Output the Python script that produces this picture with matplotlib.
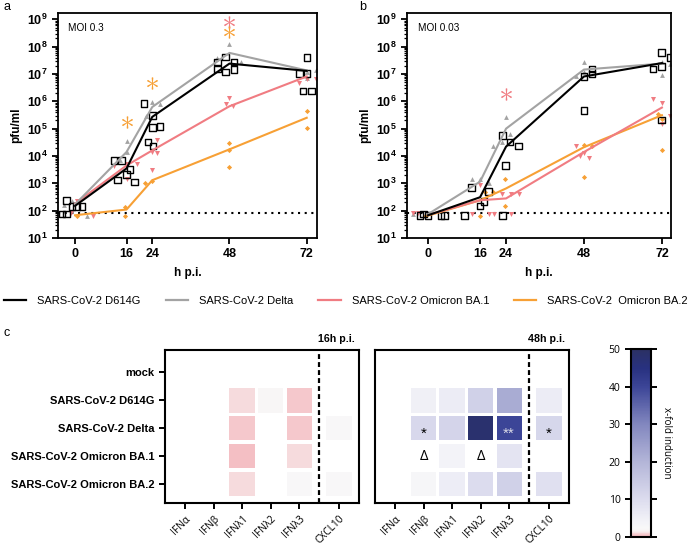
import numpy as np
import matplotlib
matplotlib.use("Agg")
import matplotlib.pyplot as plt
from matplotlib.colors import LinearSegmentedColormap, Normalize
from matplotlib.patches import Rectangle
from matplotlib.lines import Line2D
from matplotlib.ticker import LogLocator, FuncFormatter, NullFormatter
import matplotlib.cm as cm

plt.rcParams['font.family'] = ['Liberation Sans', 'DejaVu Sans']
plt.rcParams['mathtext.fontset'] = 'custom'
plt.rcParams['mathtext.rm'] = 'Liberation Sans'
plt.rcParams['mathtext.bf'] = 'Liberation Sans:bold'

# ---------------- data: growth curves ----------------
hours = [0, 16, 24, 48, 72]
virus_names = ["SARS-CoV-2 D614G", "SARS-CoV-2 Delta",
               "SARS-CoV-2 Omicron BA.1", "SARS-CoV-2  Omicron BA.2"]
virus_colors = ["#000000", "#a3a3a3", "#f07c82", "#f7a035"]
detection_limit = 80

# panel a, MOI 0.3 (mean lines)
a_means = [
    [150, 3.5e3, 2.7e5, 2.4e7, 1.3e7],
    [170, 1.4e4, 6.2e5, 5.9e7, 1.35e7],
    [180, 4.5e3, 1.6e4, 6.6e5, 8.1e6],
    [68, 110, 1.3e3, 1.75e4, 2.5e5],
]
# replicates (h p.i. incl. jitter, pfu/ml)
a_d614g_x = [-4.1, -2.6, -2.6, -1.0, 0.5, 2.1, 12.1, 14.5, 13.2, 16.0, 17.1, 18.4,
             21.4, 22.6, 24.0, 24.0, 24.3, 26.4, 44.2, 44.2, 46.8, 46.8, 49.4, 49.4,
             69.7, 70.9, 72.1, 72.1, 73.5]
a_d614g_y = [76, 76, 232, 145, 145, 145, 6.8e3, 6.8e3, 1.3e3, 2.1e3, 3.2e3, 1.1e3,
             8.2e5, 3.2e4, 3.0e5, 1.1e5, 2.3e4, 1.2e5, 2.7e7, 1.55e7, 4.2e7, 1.2e7, 2.7e7, 1.45e7,
             1.05e7, 2.4e6, 4.0e7, 1.05e7, 2.4e6]
a_delta_x = [-3.5, -1.0, 3.6, 14.0, 16.0, 16.0, 22.0, 24.0, 26.5, 44.2, 48.0, 51.5, 72.0, 72.0, 74.9]
a_delta_y = [160, 232, 62, 7e3, 1.4e4, 3.5e4, 3e5, 9.5e5, 8e5, 3.8e7, 1.25e8, 2.7e7, 7e6, 1.2e7, 1.35e7]
a_ba1_x = [-1.2, 0.5, 5.7, 12.0, 16.0, 16.0, 19.2, 23.8, 24.0, 25.4, 25.4, 46.9, 48.0, 49.2, 69.7, 72.2, 74.9]
a_ba1_y = [80, 220, 66, 4.2e3, 1.5e3, 5e3, 5e3, 3e3, 1.4e4, 4e4, 1.3e4, 7.8e5, 1.35e6, 7e5, 4.8e6, 6.8e6, 6.3e6]
a_ba2_x = [0.5, 15.5, 15.5, 21.8, 24.0, 48.0, 48.0, 48.0, 72.1, 72.1]
a_ba2_y = [66, 140, 66, 1e3, 1.2e3, 3.1e4, 1.7e4, 4e3, 4.3e5, 1.05e5]
a_star_x = [16, 24, 48, 48]
a_star_y = [1.7e5, 4.5e6, 7.9e8, 3.4e8]
a_star_virus = [3, 3, 2, 3]

# panel b, MOI 0.03
b_means = [
    [68, 310, 2.2e4, 8.1e6, 2.5e7],
    [75, 1.15e3, 1.0e5, 1.45e7, 2.4e7],
    [70, 240, 280, 1.4e4, 5.9e5],
    [66, 240, 650, 2.1e4, 3.1e5],
]
b_d614g_x = [-2.5, -1.4, 0.0, 4.0, 5.0, 11.2, 13.4, 16.0, 17.2, 18.6, 22.9, 22.9, 23.9,
             25.2, 27.8, 48.0, 48.0, 50.5, 50.5, 69.3, 71.9, 71.9, 71.9, 74.5]
b_d614g_y = [66, 75, 66, 66, 66, 66, 690, 150, 220, 510, 66, 5.6e4, 4.5e3,
             3.2e4, 2.3e4, 8.1e6, 4.7e5, 1.55e7, 9.8e6, 1.55e7, 6e7, 1.9e7, 2.1e5, 4e7]
b_delta_x = [-4.5, 13.4, 16.0, 18.6, 20.1, 22.7, 23.9, 25.2, 45.6, 48.0, 48.0, 71.9, 71.9, 74.5]
b_delta_y = [76, 1.45e3, 1.45e3, 1e3, 2.3e4, 3.2e4, 2.6e5, 6.5e4, 8.1e6, 2.75e7, 1.2e7, 2.75e7, 9e6, 2.4e7]
b_ba1_x = [-4.5, -3.0, 13.4, 16.0, 18.6, 20.4, 22.9, 25.5, 25.5, 28.0, 45.5, 46.8, 48.0, 49.4,
           69.3, 71.9, 71.9, 74.5]
b_ba1_y = [80, 80, 76, 900, 76, 76, 400, 400, 76, 400, 2.4e4, 1e4, 1.25e4, 8.5e3,
           1.25e6, 8.5e5, 1.5e5, 3e5]
b_ba2_x = [-0.9, 16.0, 17.5, 20.1, 23.7, 23.7, 48.0, 48.0, 50.5, 70.9, 71.9, 71.9]
b_ba2_y = [66, 66, 480, 500, 1.45e3, 150, 2.6e4, 1.7e3, 2.3e4, 3.5e5, 1.7e4, 2.3e5]
b_star_x = [24]
b_star_y = [1.9e6]
b_star_virus = [2]

# ---------------- data: heatmaps ----------------
rows = ["mock", "SARS-CoV-2 D614G", "SARS-CoV-2 Delta",
        "SARS-CoV-2 Omicron BA.1", "SARS-CoV-2 Omicron BA.2"]
genes = ["IFNα", "IFNβ", "IFNλ1", "IFNλ2", "IFNλ3", "CXCL10"]
nan = np.nan
heat_16h = [
    [nan, nan, nan, nan, nan, nan],
    [nan, nan, 1.1, 2.0, 0.7, nan],
    [nan, nan, 0.7, nan, 0.7, 2.2],
    [nan, nan, 0.4, nan, 1.0, nan],
    [nan, nan, 1.1, nan, 2.2, 2.2],
]
heat_48h = [
    [nan, nan, nan, nan, nan, nan],
    [nan, 5, 6, 13, 22, 6],
    [nan, 11, 12, 48, 40, 11.5],
    [nan, nan, 4, nan, 8, nan],
    [nan, 3, 5.5, 10, 13, 9],
]
# significance marks in 48h map: (row, column, text)
marks_48h = [(2, 1, "*"), (2, 4, "**"), (2, 5, "*"), (3, 1, "Δ"), (3, 3, "Δ")]

gene_pos = [0, 1, 2, 3, 4, 5.4]
split_pos = 4.7

cmap = LinearSegmentedColormap.from_list("xfold", [
    (0.0, "#f3adb3"), (0.03, "#f8f3f4"), (0.045, "#f8f8f8"), (0.08, "#f3f3f8"), (0.2, "#dcdcee"),
    (0.4, "#b3b5d8"), (0.6, "#8287bf"), (0.8, "#3c4597"), (0.9, "#283180"), (1.0, "#2b3163")])
norm = Normalize(0, 50)

W, H = 698, 549
fig = plt.figure(figsize=(W / 100, H / 100), dpi=100)


def box(l, t, r, b):
    return [l / W, 1 - b / H, (r - l) / W, (b - t) / H]


def draw_growth(ax, means, reps, stars, xlim, moi):
    markers = [("s", 22, "none"), ("^", 12, None), ("v", 13, None), ("D", 7, None)]
    for k, (xs, ys) in enumerate(reps):
        m, s, fc = markers[k]
        if fc == "none":
            ax.scatter(xs, ys, marker=m, s=s, facecolors="none", edgecolors=virus_colors[k],
                       linewidths=1.0, zorder=3)
        else:
            ax.scatter(xs, ys, marker=m, s=s, color=virus_colors[k], linewidths=0, zorder=2)
    for k in [3, 2, 1, 0]:
        ax.plot(hours, means[k], color=virus_colors[k], lw=1.5, zorder=4)
    sx, sy, sv = stars
    for x, y, v in zip(sx, sy, sv):
        ax.scatter([x], [y], marker=r"$\ast$", s=80, color=virus_colors[v], linewidths=0, zorder=5)
    ax.axhline(detection_limit, color="black", ls=(0, (1, 2.2)), lw=1.5, zorder=1)
    ax.set_yscale("log")
    ax.set_ylim(10, 1.7e9)
    ax.set_xlim(*xlim)
    ax.set_xticks(hours)
    ax.yaxis.set_major_locator(LogLocator(base=10, numticks=12))
    ax.yaxis.set_minor_locator(LogLocator(base=10, subs=np.arange(2, 10), numticks=12))
    ax.yaxis.set_minor_formatter(NullFormatter())
    ax.yaxis.set_major_formatter(FuncFormatter(
        lambda v, p: r"$\mathbf{10^{%d}}$" % int(round(np.log10(v)))))
    ax.tick_params(axis="both", which="major", labelsize=9, width=1.3, length=4, direction="out")
    ax.tick_params(axis="y", which="minor", width=0.9, length=2.2)
    for lab in ax.get_xticklabels():
        lab.set_fontweight("bold")
    for sp in ax.spines.values():
        sp.set_linewidth(1.3)
    ax.set_xlabel("h p.i.", fontsize=8.5, fontweight="bold", labelpad=5)
    ax.set_ylabel("pfu/ml", fontsize=8.5, fontweight="bold", labelpad=3)
    ax.text(0.04, 0.935, moi, transform=ax.transAxes, fontsize=7.2, va="center", ha="left")


ax_a = fig.add_axes(box(58, 13, 317, 238))
draw_growth(ax_a, a_means,
            [(a_d614g_x, a_d614g_y), (a_delta_x, a_delta_y), (a_ba1_x, a_ba1_y), (a_ba2_x, a_ba2_y)],
            (a_star_x, a_star_y, a_star_virus), (-5.3, 75.2), "MOI 0.3")
ax_b = fig.add_axes(box(407, 13, 671, 238))
draw_growth(ax_b, b_means,
            [(b_d614g_x, b_d614g_y), (b_delta_x, b_delta_y), (b_ba1_x, b_ba1_y), (b_ba2_x, b_ba2_y)],
            (b_star_x, b_star_y, b_star_virus), (-6.5, 74.8), "MOI 0.03")

fig.text(3 / W, 1 - 7 / H, "a", fontsize=9, va="center", ha="left")
fig.text(359 / W, 1 - 7 / H, "b", fontsize=9, va="center", ha="left")
fig.text(3 / W, 1 - 333 / H, "c", fontsize=9, va="center", ha="left")

handles = [Line2D([], [], color=c, lw=1.6) for c in virus_colors]
fig.legend(handles, virus_names, loc="center left", bbox_to_anchor=(4 / W, 1 - 301 / H),
           ncol=4, frameon=False, fontsize=8, handlelength=2.0, handletextpad=1.0,
           columnspacing=2.25, borderpad=0, borderaxespad=0)


def draw_heat(ax, values, title, show_rows, marks):
    for i in range(len(rows)):
        for j in range(len(genes)):
            v = values[i][j]
            if np.isnan(v):
                continue
            ax.add_patch(Rectangle((gene_pos[j] - 0.44, i - 0.445), 0.88, 0.89,
                                   facecolor=cmap(norm(v)), edgecolor="none"))
    for i, j, t in marks:
        if t == "Δ":
            ax.text(gene_pos[j], i, t, ha="center", va="center", fontsize=10.5, color="black",
                    family=["Open Sans", "DejaVu Sans"])
        else:
            col = "#d9d9e6" if values[i][j] > 30 else "black"
            ax.text(gene_pos[j], i + 0.22, t, ha="center", va="center", fontsize=11, color=col)
    ax.axvline(split_pos, color="black", ls=(0, (2.2, 1.4)), lw=1.6)
    ax.set_xlim(-0.7, 6.1)
    ax.set_ylim(4.68, -0.79)
    ax.set_xticks(gene_pos)
    ax.set_xticklabels(genes, rotation=45, ha="right", rotation_mode="anchor",
                       fontsize=7.3, family=["Open Sans", "DejaVu Sans"])
    if show_rows:
        ax.set_yticks(range(len(rows)))
        ax.set_yticklabels(rows, fontsize=8, fontweight="bold")
    else:
        ax.set_yticks([])
    ax.tick_params(width=1.4, length=4)
    for sp in ax.spines.values():
        sp.set_linewidth(1.5)
    ax.text(split_pos - 0.05, 1.075, title, transform=ax.get_xaxis_transform(),
            ha="left", va="center", fontsize=7.7, fontweight="bold")


ax_h1 = fig.add_axes(box(165, 350, 359, 503))
draw_heat(ax_h1, heat_16h, "16h p.i.", True, [])
ax_h2 = fig.add_axes(box(375, 350, 569, 503))
draw_heat(ax_h2, heat_48h, "48h p.i.", False, marks_48h)

cax = fig.add_axes(box(631, 349, 651, 537))
cb = fig.colorbar(cm.ScalarMappable(norm=norm, cmap=cmap), cax=cax, ticks=[0, 10, 20, 30, 40, 50])
cb.outline.set_linewidth(1.5)
cax.tick_params(left=True, right=True, labelleft=True, labelright=False, width=1.4, length=4,
                labelsize=7.5)
for lab in cax.get_yticklabels():
    lab.set_family(["Open Sans", "DejaVu Sans"])
cax.yaxis.set_label_position("right")
cax.set_ylabel("x-fold induction", rotation=270, fontsize=7, labelpad=11,
               family=["Open Sans", "DejaVu Sans"])

fig.savefig("out.png", dpi=100)
